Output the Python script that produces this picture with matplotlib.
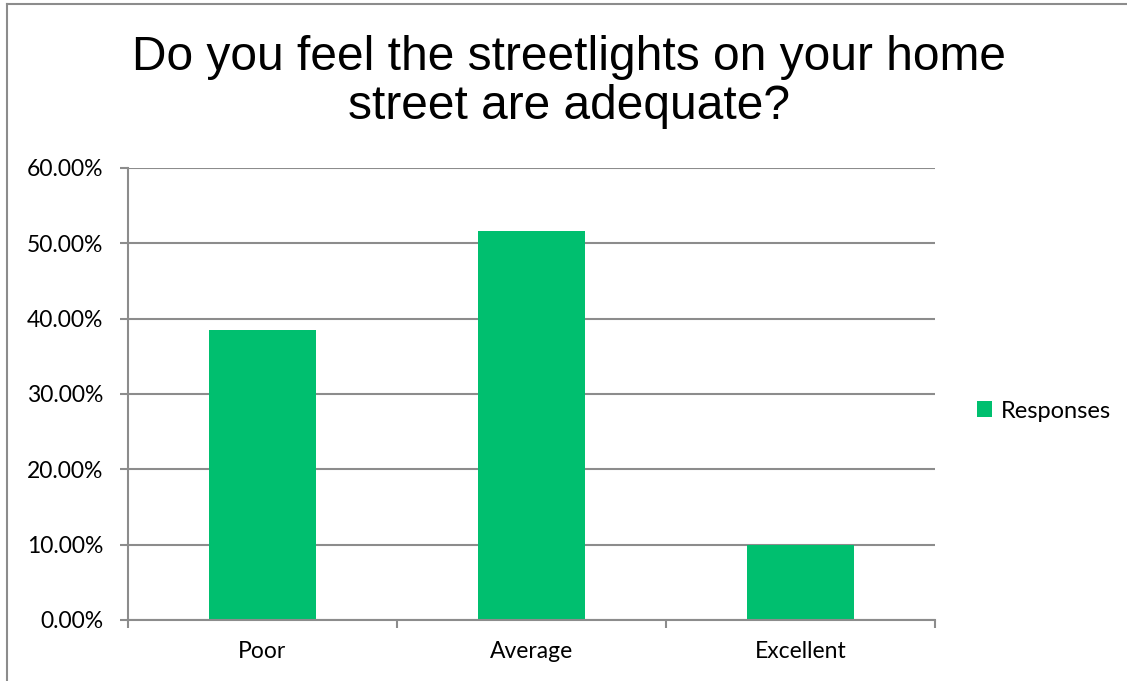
import matplotlib.pyplot as plt
from matplotlib.ticker import FuncFormatter
from matplotlib.lines import Line2D

# Survey answers, share of responses in percent
categories = ['Poor', 'Average', 'Excellent']
responses = [38.46, 51.65, 9.89]
y_ticks = [0, 10, 20, 30, 40, 50, 60]

bar_color = '#00BF6F'
grid_color = '#8C8C8C'

fig = plt.figure(figsize=(11.27, 6.81), dpi=100)

# Axes placed in pixel terms: x 128..935, y 168..620
W, H = 1127, 681
ax = fig.add_axes([128 / W, 1 - 620 / H, (935 - 128) / W, (620 - 168) / H])

x = range(len(categories))
ax.bar(x, responses, width=0.4, color=bar_color, label='Responses', zorder=3)

ax.set_xlim(-0.5, len(categories) - 0.5)
ax.set_ylim(0, 60)
ax.set_yticks(y_ticks)
ax.yaxis.set_major_formatter(FuncFormatter(lambda v, p: f'{v:.2f}%'))
ax.grid(axis='y', color=grid_color, linewidth=1.5, zorder=0)

# Category labels sit between the boundary tick marks
ax.set_xticks([i - 0.5 for i in range(len(categories) + 1)])
ax.set_xticklabels([])
ax.set_xticks(list(x), minor=True)
ax.set_xticklabels(categories, minor=True, fontsize=16.5, family='Lato')
ax.tick_params(axis='x', which='minor', length=0, pad=15)
ax.tick_params(axis='x', which='major', length=5.8, width=1.5, color=grid_color)
ax.tick_params(axis='y', length=5.8, width=1.5, color=grid_color, labelsize=16.5, pad=12)
for lab in ax.get_yticklabels():
    lab.set_family('Lato')

for side in ['top', 'right']:
    ax.spines[side].set_visible(False)
for side in ['left', 'bottom']:
    ax.spines[side].set_color(grid_color)
    ax.spines[side].set_linewidth(1.5)
    ax.spines[side].set_zorder(4)

fig.text(0.505, 1 - 82 / H, 'Do you feel the streetlights on your home\nstreet are adequate?',
         ha='center', va='center', fontsize=34.5, family='Liberation Sans',
         linespacing=1.1)

ax.legend(loc='center left', bbox_to_anchor=(965 / W, 1 - 411 / H),
          bbox_transform=fig.transFigure, frameon=False, handlelength=0.65,
          handleheight=0.65, handletextpad=0.35, borderpad=0,
          prop={'family': 'Lato', 'size': 17})

# Outer chart frame (left and top edges visible)
fig.add_artist(Line2D([7 / W, 7 / W], [0, 1 - 4 / H], color=grid_color, linewidth=1.5))
fig.add_artist(Line2D([7 / W, 1], [1 - 4 / H, 1 - 4 / H], color=grid_color, linewidth=1.5))

fig.savefig('out.png', dpi=100)
